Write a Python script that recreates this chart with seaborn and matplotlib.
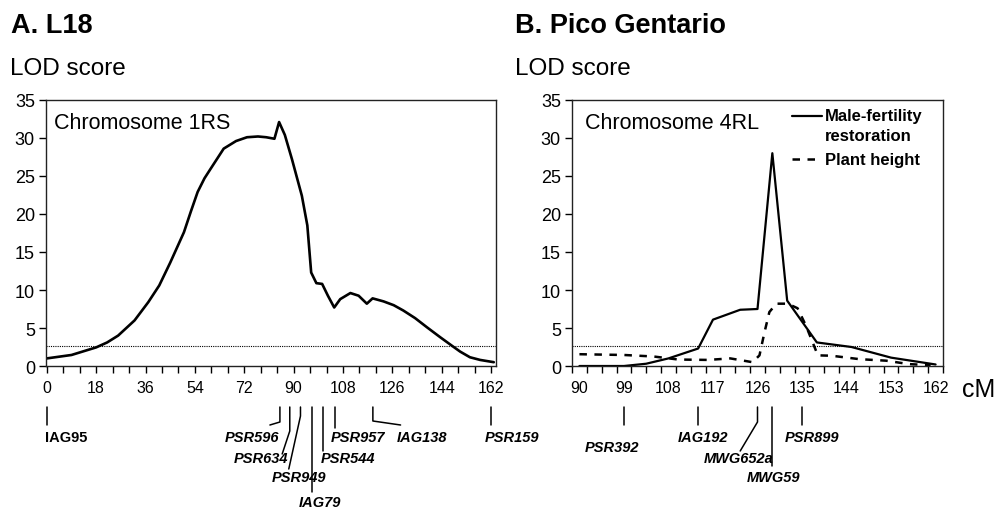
import numpy as np
import pandas as pd
import matplotlib
matplotlib.use("Agg")
import matplotlib.pyplot as plt
import seaborn as sns
from matplotlib.lines import Line2D
from matplotlib.ticker import MultipleLocator, FixedLocator

# panel A - L18, chromosome 1RS
a_cm = [0, 9, 18, 22, 26, 32, 37, 41, 45, 47.5, 50, 52.5, 55, 57.5, 60, 64.5, 69, 73,
        77, 80, 83, 84.7, 86.8, 89.4, 93, 95, 96.4, 98.3, 100.4, 102.5, 104.8, 107,
        110.7, 113.7, 116.7, 118.8, 122.8, 126.5, 130, 134.3, 138.6, 143.4, 147.6,
        150.7, 154.3, 158, 163]
a_lod = [1.0, 1.45, 2.45, 3.1, 4.0, 6.0, 8.4, 10.6, 13.6, 15.6, 17.6, 20.3, 22.9,
         24.7, 26.1, 28.6, 29.6, 30.1, 30.2, 30.1, 29.9, 32.1, 30.4, 27.2, 22.4,
         18.5, 12.3, 10.9, 10.8, 9.25, 7.7, 8.8, 9.6, 9.25, 8.2, 8.9, 8.5, 8.0, 7.3,
         6.3, 5.1, 3.8, 2.7, 1.9, 1.15, 0.8, 0.5]

# panel B - Pico Gentario, chromosome 4RL
b_cm_fert = [90, 99, 103.5, 108, 114, 117, 122.5, 126, 129, 132, 138, 145, 153, 162]
b_fert = [0, 0, 0.3, 1.0, 2.3, 6.1, 7.4, 7.5, 28.0, 8.6, 3.1, 2.5, 1.1, 0.2]
b_cm_height = [90, 99, 105, 110, 116, 120.5, 125, 126.4, 127.4, 128.4, 129.8, 132.1,
               134.1, 135.8, 138.2, 141, 146.6, 152, 156.6, 161]
b_height = [1.55, 1.45, 1.25, 0.85, 0.8, 1.0, 0.5, 1.4, 4.4, 7.1, 8.2, 8.2, 7.6, 5.3,
            1.4, 1.35, 0.9, 0.7, 0.25, 0.1]

threshold = 2.6

a_markers = ['IAG95', 'PSR596', 'PSR634', 'PSR949', 'IAG79', 'PSR544', 'PSR957',
             'IAG138', 'PSR159']
a_marker_cm = [0, 85, 88.6, 92.5, 96.8, 100.8, 105, 118.9, 162]
b_markers = ['PSR392', 'IAG192', 'MWG652a', 'MWG59', 'PSR899']
b_marker_cm = [99, 114, 126, 129, 135]

W, H = 997, 510

sns.set_style("ticks")
plt.rcParams['font.family'] = ['Liberation Sans', 'DejaVu Sans']
for k in ('text.color', 'axes.labelcolor', 'xtick.color', 'ytick.color'):
    plt.rcParams[k] = 'black'

fig = plt.figure(figsize=(W / 100, H / 100), dpi=100)
ax1 = fig.add_axes([46 / W, 1 - 367 / H, 450 / W, 266 / H])
ax2 = fig.add_axes([572 / W, 1 - 367 / H, 371 / W, 266 / H])

dfa = pd.DataFrame({'cM': a_cm, 'LOD': a_lod})
sns.lineplot(data=dfa, x='cM', y='LOD', ax=ax1, color='black', lw=1.9)

dff = pd.DataFrame({'cM': b_cm_fert, 'LOD': b_fert})
dfh = pd.DataFrame({'cM': b_cm_height, 'LOD': b_height})
sns.lineplot(data=dff, x='cM', y='LOD', ax=ax2, color='black', lw=1.6)
sns.lineplot(data=dfh, x='cM', y='LOD', ax=ax2, color='black', lw=1.8,
             dashes=False, linestyle=(0, (3, 3)))

for ax in (ax1, ax2):
    ax.axhline(threshold, color='black', lw=0.8, ls=(0, (1, 1)))
    ax.set_ylim(0, 35)
    ax.yaxis.set_major_locator(MultipleLocator(5))
    ax.set_xlabel('')
    ax.set_ylabel('')
    for s in ax.spines.values():
        s.set_visible(True)
        s.set_color('#222222')
        s.set_linewidth(1.0)
    ax.tick_params(axis='y', labelsize=13, length=5, width=1, pad=3)
    ax.tick_params(axis='x', which='both', labelsize=11.5, width=1)

ax1.set_xlim(-0.3, 163.8)
ax1.xaxis.set_major_locator(MultipleLocator(18))
ax1.xaxis.set_minor_locator(MultipleLocator(6))
ax1.tick_params(axis='x', which='both', length=5, pad=5)

ax2.set_xlim(88.5, 163.5)
ax2.set_xticks(np.arange(90, 163, 9))
ax2.xaxis.set_minor_locator(FixedLocator(np.arange(88.5, 164, 3)))
ax2.tick_params(axis='x', which='major', length=0, pad=10)
ax2.tick_params(axis='x', which='minor', length=5)

ax1.text(0.017, 0.955, 'Chromosome 1RS', transform=ax1.transAxes, fontsize=15.5,
         va='top', ha='left')
ax2.text(0.035, 0.955, 'Chromosome 4RL', transform=ax2.transAxes, fontsize=15.5,
         va='top', ha='left')


def fx(px):
    return px / W


def fy(px):
    return 1 - px / H


# legend drawn by hand so the line sits on the first text row
fig.add_artist(Line2D([fx(792), fx(822)], [fy(117), fy(117)], color='black', lw=1.6))
fig.add_artist(Line2D([fx(792), fx(822)], [fy(160), fy(160)], color='black', lw=1.8,
                      linestyle=(0, (3, 3))))
fig.text(fx(825), fy(117), 'Male-fertility', fontsize=12, fontweight='bold',
         va='center', ha='left')
fig.text(fx(825), fy(137), 'restoration', fontsize=12, fontweight='bold',
         va='center', ha='left')
fig.text(fx(825), fy(160), 'Plant height', fontsize=12, fontweight='bold',
         va='center', ha='left')

# titles
fig.text(fx(11), fy(33), 'A. L18', fontsize=19.5, fontweight='bold', ha='left',
         va='baseline')
fig.text(fx(515), fy(33), 'B. Pico Gentario', fontsize=19.5, fontweight='bold',
         ha='left', va='baseline')
fig.text(fx(10), fy(75), 'LOD score', fontsize=17.5, ha='left', va='baseline')
fig.text(fx(515), fy(75), 'LOD score', fontsize=17.5, ha='left', va='baseline')
fig.text(fx(962), fy(397), 'cM', fontsize=18, ha='left', va='baseline')

# marker leaders: (vertical end y, diagonal dx, diagonal end y, label dx, label y, ha)
a_layout = [(426, 0, 426, -2, 438, 'left'),
            (423, -10, 426, -1, 438, 'right'),
            (432, -7.6, 455, -2, 459, 'right'),
            (417, -11.7, 470, -1, 478, 'center'),
            (493, 0, 493, 8, 503, 'center'),
            (452, 0, 452, -3, 459, 'left'),
            (429, 0, 429, -4, 438, 'left'),
            (422, 27.7, 426, 24, 438, 'left'),
            (426, 0, 426, -6, 438, 'left')]
b_layout = [(426, 0, 426, -11.5, 448, 'center'),
            (426, 0, 426, 5, 438, 'center'),
            (423, -17.3, 452, -19, 459, 'center'),
            (467, 0, 467, 1, 478, 'center'),
            (426, 0, 426, 10, 438, 'center')]


def draw_markers(ax, names, cms, layout):
    for name, cm, (y1, dx, y2, ldx, ly, ha) in zip(names, cms, layout):
        xp = ax.transData.transform((cm, 0))[0]
        fig.add_artist(Line2D([fx(xp), fx(xp), fx(xp + dx)],
                              [fy(408), fy(y1), fy(y2)], color='black', lw=1.1))
        style = 'normal' if name == 'IAG95' else 'italic'
        fig.text(fx(xp + ldx), fy(ly), name, fontsize=10.5, fontweight='bold',
                 fontstyle=style, ha=ha, va='center')


draw_markers(ax1, a_markers, a_marker_cm, a_layout)
draw_markers(ax2, b_markers, b_marker_cm, b_layout)

fig.savefig('out.png', dpi=100)
